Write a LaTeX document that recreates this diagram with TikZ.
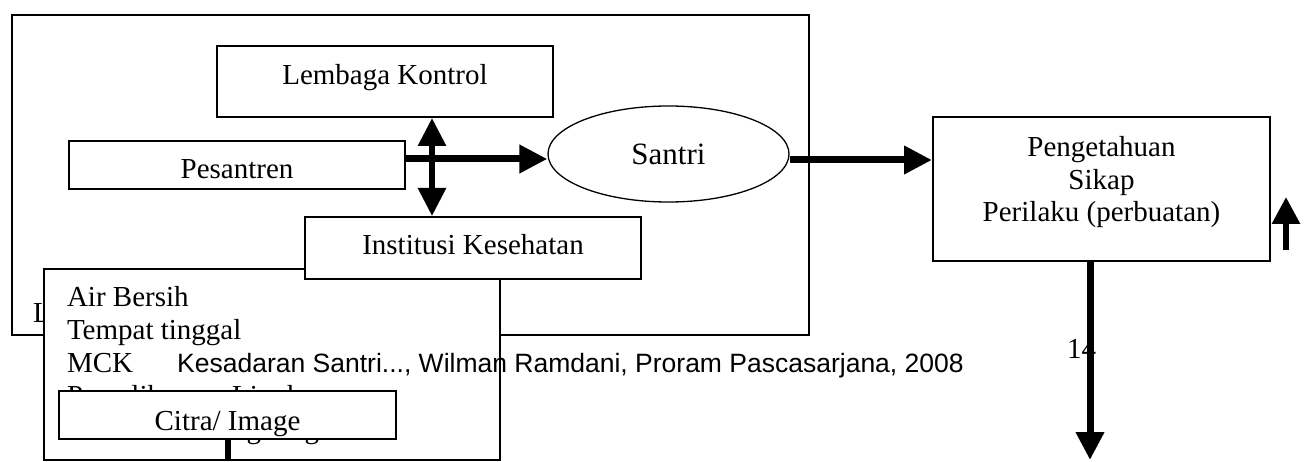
\documentclass[tikz,border=0pt]{standalone}
\usepackage{fontspec}
\setmainfont{Liberation Serif}
\newfontfamily\footfont{Liberation Sans}
\usetikzlibrary{arrows.meta,shapes.geometric}

\begin{document}
\begin{tikzpicture}[x=1pt,y=-1pt,
  box/.style={draw=black,line width=2pt,fill=white,inner sep=0pt,
              font=\fontsize{29}{33}\selectfont},
  oval/.style={ellipse,draw=black,line width=1.3pt,fill=white,inner sep=0pt,
               font=\fontsize{31}{35}\selectfont},
  plain/.style={inner sep=0pt,font=\fontsize{29}{33}\selectfont},
  arr/.style={line width=7pt,-{Triangle[length=28pt,width=27pt]}},
  arrthin/.style={line width=6pt,-{Triangle[length=27pt,width=27pt]}},
  arrboth/.style={line width=6pt,{Triangle[length=28pt,width=27pt]}-{Triangle[length=28pt,width=27pt]}},
]
\useasboundingbox (0,0) rectangle (1312,462);

% environment frame
\node[box,minimum width=797pt,minimum height=320pt] (outer) at (410.5,175) {};
\node[plain,anchor=base west] (lbl) at (33,323) {L};

% actors around the santri
\node[box,minimum width=336pt,minimum height=71pt,text height=6pt,text depth=0pt]
  (lembaga) at (385,81.5) {Lembaga Kontrol};
\node[box,minimum width=336pt,minimum height=48pt,text height=28pt,text depth=0pt]
  (pesantren) at (237,165) {Pesantren};
\node[oval,minimum width=241pt,minimum height=96pt,text height=22pt,text depth=0pt]
  (santri) at (668.5,154) {Santri};

% outcome box
\node[box,minimum width=337pt,minimum height=144pt,text height=0pt,text depth=64.6pt]
  (pk) at (1101.5,189)
  {\fontsize{29}{32.5}\selectfont\begin{tabular}[t]{@{}c@{}}Pengetahuan\\Sikap\\Perilaku (perbuatan)\end{tabular}};

% facilities box
\node[box,minimum width=456pt,minimum height=191pt,text height=0pt,text depth=115pt]
  (air) at (272,364.5)
  {\makebox[410pt][l]{\begin{tabular}[t]{@{}l@{}}Air Bersih\\Tempat tinggal\\MCK\\Pemeliharaan Lingkungan\\Kebersihan Lingkungan\end{tabular}}};

\node[box,minimum width=336pt,minimum height=62pt,text height=14pt,text depth=0pt]
  (institusi) at (473,248) {Institusi Kesehatan};

\node[box,minimum width=337pt,minimum height=48pt,text height=30pt,text depth=0pt]
  (citra) at (227.5,415) {Citra/ Image};

% running footer and page number
\node[inner sep=0pt,anchor=base west,font=\footfont\fontsize{26.5}{30}\selectfont]
  (footer) at (177,372) {Kesadaran Santri..., Wilman Ramdani, Proram Pascasarjana, 2008};
\node[plain,anchor=base west] (num) at (1067,359) {14};

% connectors
\coordinate (vx) at (432,0);
\draw[arrboth] (vx |- lembaga.south) -- (vx |- institusi.north);
\draw[arr] ([yshift=6pt]pesantren.east) -- ([yshift=-5pt]santri.west);
\coordinate (s1) at ([yshift=-6pt]santri.east);
\draw[arr] (s1) -- (s1 -| pk.west);
\coordinate (dx) at (1090,0);
\coordinate (dend) at (1090,460);
\draw[arr] (dx |- pk.south) -- (dend);
\coordinate (ubot) at (1286,250);
\coordinate (utop) at (1286,197);
\draw[arrthin] (ubot) -- (utop);
\draw[line width=6pt] (citra.south) -- (citra.south |- air.south);
\end{tikzpicture}
\end{document}
